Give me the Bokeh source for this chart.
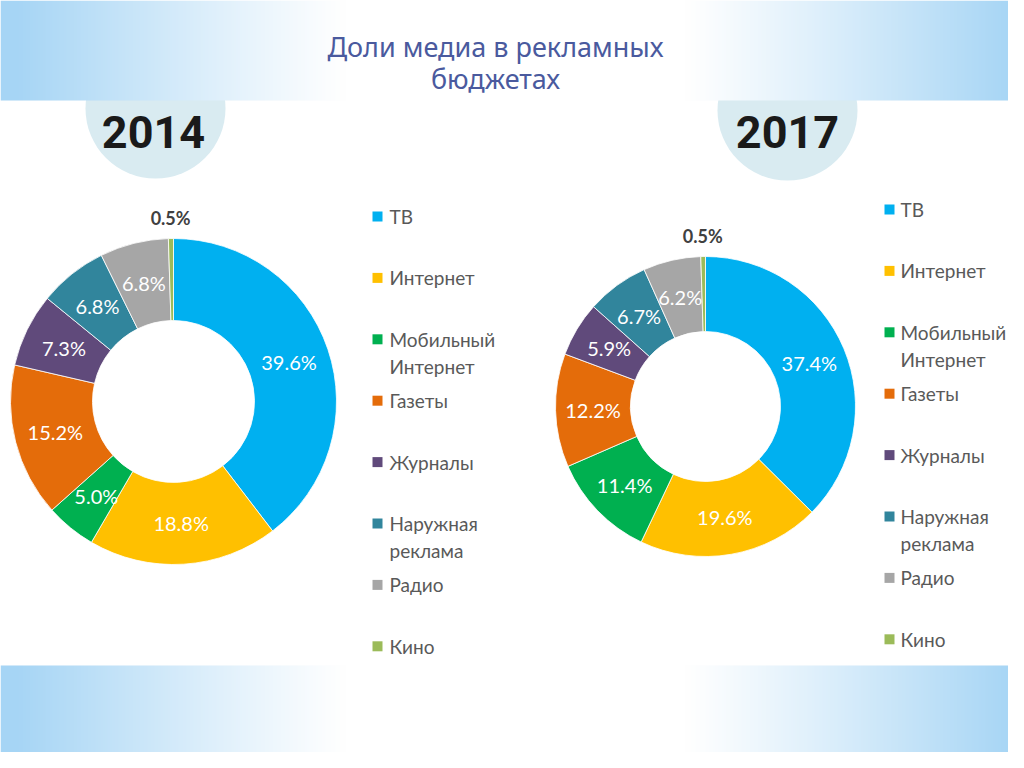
import numpy as np
from bokeh.plotting import figure
from bokeh.models import Range1d
from bokeh.core.properties import value
from bokeh.embed import file_html
from bokeh.resources import INLINE

# ---------------- data ----------------
title_lines = ["Доли медиа в рекламных", "бюджетах"]
years = ["2014", "2017"]
categories = ["ТВ", "Интернет", "Мобильный\nИнтернет", "Газеты", "Журналы",
              "Наружная\nреклама", "Радио", "Кино"]
colors = ["#00B0F0", "#FFC000", "#00B050", "#E46C0A", "#604A7B", "#31859C",
          "#A6A6A6", "#9BBB59"]
shares_2014 = [39.6, 18.8, 5.0, 15.2, 7.3, 6.8, 6.8, 0.5]
shares_2017 = [37.4, 19.6, 11.4, 12.2, 5.9, 6.7, 6.2, 0.5]
all_shares = [shares_2014, shares_2017]

# ---------------- layout ----------------
W, H = 1008, 752
p = figure(width=W, height=H, x_range=Range1d(0, W), y_range=Range1d(-H, 0),
           output_backend="svg", toolbar_location=None, min_border=0,
           x_axis_type=None, y_axis_type=None)
p.grid.visible = False
p.outline_line_color = None
p.background_fill_color = "white"
p.border_fill_color = "white"

# year badges (drawn first so the header band covers their top)
badge_x = [155, 787]
badge_y = [-108, -110]
p.circle(x=badge_x, y=badge_y, radius=70, fill_color="#d9ebf1", line_color=None)


def band(h, w=1024):
    xs = np.arange(w) + 0.5
    t = np.clip((np.abs(xs - 515) - 170) / 330.0, 0, 1) ** 1.1
    edge = np.array([166, 213, 245])
    rgb = 255 - (255 - edge)[None, :] * t[:, None]
    img = np.empty((h, w), dtype=np.uint32)
    v = img.view(dtype=np.uint8).reshape((h, w, 4))
    v[..., 0] = rgb[None, :, 0].astype(np.uint8)
    v[..., 1] = rgb[None, :, 1].astype(np.uint8)
    v[..., 2] = rgb[None, :, 2].astype(np.uint8)
    v[..., 3] = 255
    return img


p.image_rgba(image=[band(100)], x=0, y=-100, dw=1024, dh=100)
p.image_rgba(image=[band(103)], x=0, y=-768, dw=1024, dh=103)

# title
p.text(x=[495, 495], y=[-46, -78], text=title_lines,
       text_font=value("Noto Sans"), text_font_size="27px", text_color="#4a5a9e",
       text_align="center", text_baseline="middle")

# year labels
p.text(x=[153, 787], y=[-131, -131], text=years,
       text_font=value("Roboto"), text_font_style="bold", text_font_size="45px",
       text_color="#1a1a1a", text_align="center", text_baseline="middle")

# donuts
cxs = [173, 705]
cys = [-401, -406]
r_out = [163, 150]
r_in = [81, 75]

for k, shares in enumerate(all_shares):
    s = np.array(shares, dtype=float)
    frac = s / s.sum()
    cum_end = np.cumsum(frac)
    cum_start = cum_end - frac
    start = np.pi / 2 - 2 * np.pi * cum_end
    end = np.pi / 2 - 2 * np.pi * cum_start
    p.annular_wedge(x=cxs[k], y=cys[k], inner_radius=r_in[k], outer_radius=r_out[k],
                    start_angle=list(start), end_angle=list(end), direction="anticlock",
                    fill_color=colors, line_color="white", line_width=0.8)
    mid = np.pi / 2 - 2 * np.pi * (cum_start + frac / 2)
    rm = (r_in[k] + r_out[k]) / 2
    in_x, in_y, in_t, out_x, out_y, out_t = [], [], [], [], [], []
    for v, a in zip(shares, mid):
        lab = f"{v:.1f}%"
        if v >= 2:
            in_x.append(cxs[k] + rm * np.cos(a))
            in_y.append(cys[k] + rm * np.sin(a))
            in_t.append(lab)
        else:
            rr = r_out[k] + 21
            out_x.append(cxs[k] + rr * np.cos(a))
            out_y.append(cys[k] + rr * np.sin(a))
            out_t.append(lab)
    p.text(x=in_x, y=in_y, text=in_t, text_font=value("Lato"), text_font_size="20px",
           text_color="white", text_align="center", text_baseline="middle")
    p.text(x=out_x, y=out_y, text=out_t, text_font=value("Lato"), text_font_style="bold",
           text_font_size="18px", text_color="#404040", text_align="center",
           text_baseline="middle")

# legends
leg_sq_x = [377, 889]
leg_tx_x = [389, 900]
leg_y0 = [216, 209]
step = 61.4
for k in range(2):
    sq_y = [-(leg_y0[k] + i * step) for i in range(len(categories))]
    p.rect(x=[leg_sq_x[k]] * len(categories), y=sq_y, width=10, height=10,
           fill_color=colors, line_color=None)
    tx, ty, tt = [], [], []
    for i, c in enumerate(categories):
        for j, line in enumerate(c.split("\n")):
            tx.append(leg_tx_x[k])
            ty.append(sq_y[i] - j * 27)
            tt.append(line)
    p.text(x=tx, y=ty, text=tt, text_font=value("Lato"), text_font_size="19px",
           text_color="#595959", text_align="left", text_baseline="middle")

open("out.html", "w").write(file_html(p, INLINE))
